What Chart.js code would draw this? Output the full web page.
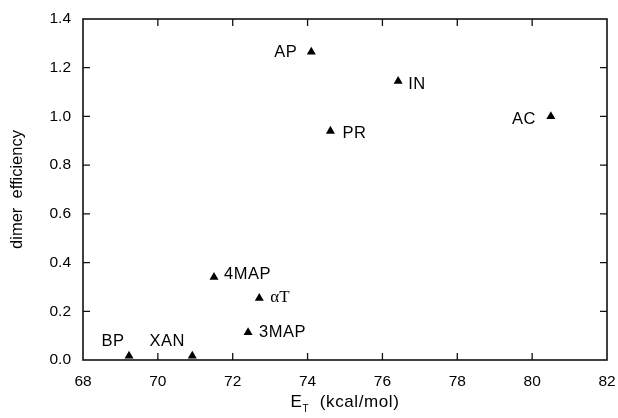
<!DOCTYPE html>
<html>
<head>
<meta charset="utf-8">
<script src="https://cdn.jsdelivr.net/npm/chart.js@4/dist/chart.umd.min.js"></script>
<style>
  body { margin: 0; background: #fff; }
</style>
</head>
<body>
<canvas id="dimer_chart" width="618" height="418"></canvas>
<script>

// compound names, triplet energies and dimer efficiency
var compounds = ['BP', 'XAN', '4MAP', '\u03b1T', '3MAP', 'AP', 'PR', 'IN', 'AC'];
var energy_ET = [69.23, 70.92, 71.5, 72.71, 72.41, 74.1, 74.61, 76.42, 80.5];
var dimer_eff = [0.017, 0.017, 0.34, 0.254, 0.113, 1.265, 0.94, 1.145, 1.0];

var xTicks = [68, 70, 72, 74, 76, 78, 80, 82];
var yTicks = [0.0, 0.2, 0.4, 0.6, 0.8, 1.0, 1.2, 1.4];

// where each label sits relative to its marker (pixels)
var labelPlacement = [
  { dx: -16, dy: -14, align: 'center' },
  { dx: -25, dy: -14, align: 'center' },
  { dx: 10,  dy: -3,  align: 'left' },
  { dx: 11,  dy: -1,  align: 'left' },
  { dx: 11,  dy: 0,   align: 'left' },
  { dx: -14, dy: 1,   align: 'right' },
  { dx: 12,  dy: 2,   align: 'left' },
  { dx: 10,  dy: 3,   align: 'left' },
  { dx: -15, dy: 3,   align: 'right' }
];

var FONT = '"Liberation Sans", Arial, sans-serif';

var points = [];
for (var i = 0; i < compounds.length; i++) {
  points.push({ x: energy_ET[i], y: dimer_eff[i] });
}

// frame, inward ticks, point labels and the x title with subscript
var framePlugin = {
  id: 'frame',
  afterDraw: function (chart) {
    var ctx = chart.ctx;
    var a = chart.chartArea;
    var xs = chart.scales.x;
    var ys = chart.scales.y;
    var tl = 7;

    ctx.save();
    ctx.strokeStyle = '#111';
    ctx.lineWidth = 1.6;
    ctx.strokeRect(a.left, a.top, a.right - a.left, a.bottom - a.top);

    ctx.lineWidth = 1.3;
    ctx.beginPath();
    for (var i = 1; i < xTicks.length - 1; i++) {
      var px = xs.getPixelForValue(xTicks[i]);
      ctx.moveTo(px, a.bottom); ctx.lineTo(px, a.bottom - tl);
      ctx.moveTo(px, a.top);    ctx.lineTo(px, a.top + tl);
    }
    for (var j = 1; j < yTicks.length - 1; j++) {
      var py = ys.getPixelForValue(yTicks[j]);
      ctx.moveTo(a.left, py);  ctx.lineTo(a.left + tl, py);
      ctx.moveTo(a.right, py); ctx.lineTo(a.right - tl, py);
    }
    ctx.stroke();

    // labels beside the markers
    var meta = chart.getDatasetMeta(0);
    ctx.fillStyle = '#000';
    ctx.textBaseline = 'middle';
    for (var k = 0; k < compounds.length; k++) {
      var el = meta.data[k];
      var p = labelPlacement[k];
      ctx.textAlign = p.align;
      if (compounds[k] === '\u03b1T') {
        ctx.letterSpacing = '0px';
        ctx.font = '17px "Liberation Serif", "Times New Roman", serif';
      } else {
        ctx.letterSpacing = '0.5px';
        ctx.font = '16.5px ' + FONT;
      }
      ctx.fillText(compounds[k], el.x + p.dx, el.y + p.dy);
    }

    // x axis title: E_T (kcal/mol)
    ctx.letterSpacing = '0.6px';
    var main = 'E';
    var rest = '  (kcal/mol)';
    ctx.font = '17px ' + FONT;
    var wE = ctx.measureText(main).width;
    var wR = ctx.measureText(rest).width;
    ctx.font = '10px ' + FONT;
    var wT = ctx.measureText('T').width;
    var total = wE + wT + wR;
    var cx = (a.left + a.right) / 2;
    var x0 = cx - total / 2;
    var ty = 407;
    ctx.textAlign = 'left';
    ctx.textBaseline = 'alphabetic';
    ctx.font = '17px ' + FONT;
    ctx.fillText(main, x0, ty);
    ctx.font = '10px ' + FONT;
    ctx.fillText('T', x0 + wE, ty + 5);
    ctx.font = '17px ' + FONT;
    ctx.fillText(rest, x0 + wE + wT, ty);
    ctx.restore();
  }
};

var context = document.getElementById('dimer_chart').getContext('2d');

var myChart = new Chart(context, {
  type: 'scatter',
  data: {
    datasets: [{
      label: 'dimer efficiency',
      data: points,
      pointStyle: 'triangle',
      pointRadius: 5.2,
      pointHoverRadius: 5.2,
      backgroundColor: '#000',
      borderColor: '#000',
      borderWidth: 0
    }]
  },
  options: {
    responsive: false,
    animation: false,
    layout: { padding: { top: 19, right: 11, left: 0, bottom: 0 } },
    plugins: {
      legend: { display: false },
      tooltip: { enabled: false }
    },
    scales: {
      x: {
        type: 'linear',
        min: 68,
        max: 82,
        afterBuildTicks: function (scale) {
          scale.ticks = xTicks.map(function (v) { return { value: v }; });
        },
        afterFit: function (scale) {
          scale.height = 58;
          scale.paddingLeft = 0;
          scale.paddingRight = 0;
        },
        grid: { display: false, drawTicks: false },
        border: { display: false },
        ticks: {
          color: '#000',
          padding: 12,
          maxRotation: 0,
          font: { family: FONT, size: 15.5 }
        }
      },
      y: {
        min: 0,
        max: 1.4,
        afterBuildTicks: function (scale) {
          scale.ticks = yTicks.map(function (v) { return { value: v }; });
        },
        afterFit: function (scale) {
          scale.width = 83;
          scale.paddingTop = 0;
          scale.paddingBottom = 0;
        },
        grid: { display: false, drawTicks: false },
        border: { display: false },
        ticks: {
          color: '#000',
          padding: 12,
          font: { family: FONT, size: 15.5 },
          callback: function (v) { return Number(v).toFixed(1); }
        },
        title: {
          display: true,
          text: 'dimer  efficiency',
          color: '#000',
          font: { family: FONT, size: 16.5 },
          padding: { top: 8, bottom: 0 }
        }
      }
    }
  },
  plugins: [framePlugin]
});
</script>
</body>
</html>
